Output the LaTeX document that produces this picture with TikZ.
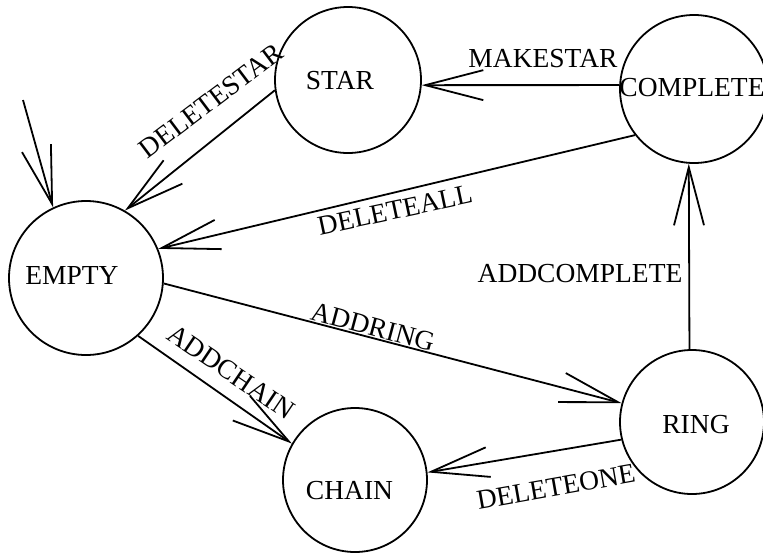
\documentclass[tikz,border=0pt]{standalone}
\usepackage{fontspec}
\setmainfont{Liberation Serif}
\usetikzlibrary{arrows.meta}
\begin{document}
\begin{tikzpicture}[x=1pt,y=-1pt,line width=1.8pt,
  font=\fontsize{27.5}{33}\selectfont,
  state/.style={circle,draw,inner sep=0pt},
  trans/.style={-{Straight Barb[length=58pt,width=30pt]}},
  lbl/.style={inner sep=0pt}]
\useasboundingbox (0,0) rectangle (763,555);
% states
\node[state,minimum size=146pt,label={[shift={(-8,1)}]center:STAR}] (star) at (348,80) {};
\node[state,minimum size=148pt,label={[shift={(-2,-1)}]center:COMPLETE}] (complete) at (694,89) {};
\node[state,minimum size=154pt,label={[shift={(-14,-3)}]center:EMPTY}] (empty) at (86,278) {};
\node[state,minimum size=144pt,label={[shift={(-5.5,11)}]center:CHAIN}] (chain) at (355,480) {};
\node[state,minimum size=144pt,label={[shift={(4,2.5)}]center:RING}] (ring) at (692,422) {};
% transitions
\coordinate (init) at (23,100);
\draw[trans] (init) -- (empty.115);
\draw[trans] (complete.177) -- (star.356);
\draw[trans] (star.188) -- (empty.60);
\draw[trans] (complete.218) -- (empty.22);
\draw[trans] (empty.356) -- (ring.165);
\draw[trans] (empty.312) -- (chain.150);
\draw[trans] (ring.194) -- (chain.6);
\draw[trans] (ring.92) -- (complete.266);
% labels
\node[lbl,rotate=37] (lDeletestar) at (211,101) {DELETESTAR};
\node[lbl] (lMakestar) at (543,58.5) {MAKESTAR};
\node[lbl,rotate=12] (lDeleteall) at (395,210) {DELETEALL};
\node[lbl,rotate=-15] (lAddring) at (373,327) {ADDRING};
\node[lbl,rotate=-34] (lAddchain) at (231,372) {ADDCHAIN};
\node[lbl,rotate=10] (lDeleteone) at (556,487) {DELETEONE};
\node[lbl] (lAddcomplete) at (580,274) {ADDCOMPLETE};
\end{tikzpicture}
\end{document}
